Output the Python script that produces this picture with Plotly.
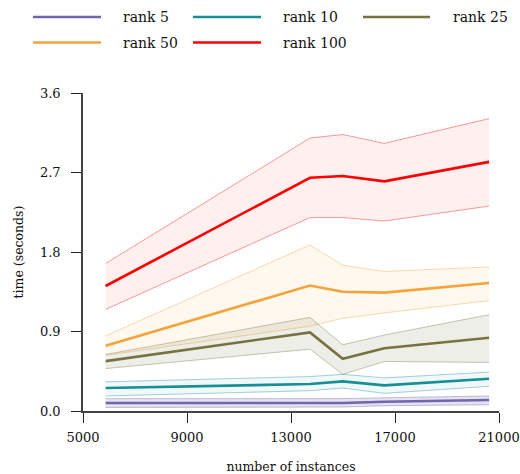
import plotly.graph_objects as go

instances = [5870, 13730, 14990, 16590, 20620]

series_names = ["rank 5", "rank 10", "rank 25", "rank 50", "rank 100"]

rank5_mean = [0.09, 0.09, 0.09, 0.105, 0.125]
rank5_upper = [0.14, 0.14, 0.14, 0.15, 0.17]
rank5_lower = [0.04, 0.04, 0.045, 0.06, 0.07]

rank10_mean = [0.26, 0.305, 0.335, 0.29, 0.365]
rank10_upper = [0.33, 0.39, 0.415, 0.375, 0.44]
rank10_lower = [0.17, 0.23, 0.26, 0.20, 0.28]

rank25_mean = [0.565, 0.89, 0.59, 0.71, 0.83]
rank25_upper = [0.64, 1.06, 0.75, 0.86, 1.09]
rank25_lower = [0.48, 0.70, 0.415, 0.56, 0.55]

rank50_mean = [0.74, 1.42, 1.35, 1.34, 1.45]
rank50_upper = [0.85, 1.88, 1.65, 1.58, 1.63]
rank50_lower = [0.63, 0.96, 1.05, 1.11, 1.25]

rank100_mean = [1.415, 2.64, 2.66, 2.60, 2.82]
rank100_upper = [1.67, 3.09, 3.13, 3.03, 3.31]
rank100_lower = [1.15, 2.19, 2.19, 2.15, 2.32]

x_ticks = [5000, 9000, 13000, 17000, 21000]
y_ticks = [0.0, 0.9, 1.8, 2.7, 3.6]

colors = {
    "rank 5": (114, 100, 174),
    "rank 10": (24, 143, 146),
    "rank 25": (119, 114, 66),
    "rank 50": (245, 162, 56),
    "rank 100": (255, 0, 0),
}
fill_alpha = {"rank 5": 0.18, "rank 10": 0.06, "rank 25": 0.12, "rank 50": 0.08, "rank 100": 0.06}

data = {
    "rank 5": (rank5_mean, rank5_upper, rank5_lower),
    "rank 10": (rank10_mean, rank10_upper, rank10_lower),
    "rank 25": (rank25_mean, rank25_upper, rank25_lower),
    "rank 50": (rank50_mean, rank50_upper, rank50_lower),
    "rank 100": (rank100_mean, rank100_upper, rank100_lower),
}

FONT = "DejaVu Serif"

def rgba(c, a):
    return f"rgba({c[0]},{c[1]},{c[2]},{a})"

fig = go.Figure()
draw_order = ["rank 100", "rank 50", "rank 25", "rank 10", "rank 5"]
for name in draw_order:
    mean, up, lo = data[name]
    c = colors[name]
    fig.add_trace(go.Scatter(x=instances, y=up, mode="lines",
                             line=dict(color=rgba(c, 0.4), width=1),
                             showlegend=False, hoverinfo="skip"))
    fig.add_trace(go.Scatter(x=instances, y=lo, mode="lines", fill="tonexty",
                             fillcolor=rgba(c, fill_alpha[name]),
                             line=dict(color=rgba(c, 0.4), width=1),
                             showlegend=False, hoverinfo="skip"))
for name in draw_order:
    mean, up, lo = data[name]
    c = colors[name]
    fig.add_trace(go.Scatter(x=instances, y=mean, mode="lines", name=name,
                             line=dict(color=rgba(c, 1), width=2.6),
                             showlegend=False))

# manual legend (paper coordinates)
W, H = 520, 474
ml, mr, mt, mb = 83, 21, 93, 63
pw, ph = W - ml - mr, H - mt - mb
def px(x):
    return (x - ml) / pw
def py(y):
    return (H - mb - y) / ph

legend_pos = [
    ("rank 5", 33, 101, 121, 17),
    ("rank 10", 193, 261, 281, 17),
    ("rank 25", 363, 430, 451, 17),
    ("rank 50", 33, 101, 121, 42.5),
    ("rank 100", 193, 261, 281, 42.5),
]
shapes = []
annotations = []
for name, x0, x1, xt, yy in legend_pos:
    c = colors[name]
    shapes.append(dict(type="line", xref="paper", yref="paper",
                       x0=px(x0), x1=px(x1), y0=py(yy), y1=py(yy),
                       line=dict(color=rgba(c, 1), width=2.6)))
    annotations.append(dict(text=name, xref="paper", yref="paper",
                            x=px(xt), y=py(yy), xanchor="left", yanchor="middle",
                            showarrow=False,
                            font=dict(family=FONT, size=14, color="#111")))

fig.update_layout(
    width=W, height=H,
    margin=dict(l=ml, r=mr, t=mt, b=mb, autoexpand=False),
    paper_bgcolor="white", plot_bgcolor="white",
    font=dict(family=FONT, size=13, color="#111"),
    shapes=shapes, annotations=annotations,
    showlegend=False,
)
fig.update_xaxes(range=[5000, 21000], tickvals=x_ticks,
                 ticktext=[str(v) for v in x_ticks],
                 showgrid=False, zeroline=False, showline=True,
                 linecolor="#444", linewidth=1.5, automargin=False,
                 ticks="outside", ticklen=10, tickcolor="#222", tickwidth=1.2,
                 ticklabelstandoff=4,
                 tickfont=dict(family=FONT, size=13),
                 title=dict(text="number of instances", standoff=18,
                            font=dict(family=FONT, size=12.5)))
fig.update_yaxes(range=[0, 3.6], tickvals=y_ticks,
                 ticktext=[f"{v:.1f}" for v in y_ticks],
                 showgrid=False, zeroline=False, showline=True,
                 linecolor="#444", linewidth=1.5, automargin=False,
                 ticks="outside", ticklen=10, tickcolor="#222", tickwidth=1.2,
                 ticklabelstandoff=8,
                 tickfont=dict(family=FONT, size=13),
                 title=dict(text="time (seconds)", standoff=14,
                            font=dict(family=FONT, size=12.5)))

fig.write_html("out.html", config={"displayModeBar": False},
               post_script="document.body.style.margin='0px';")
